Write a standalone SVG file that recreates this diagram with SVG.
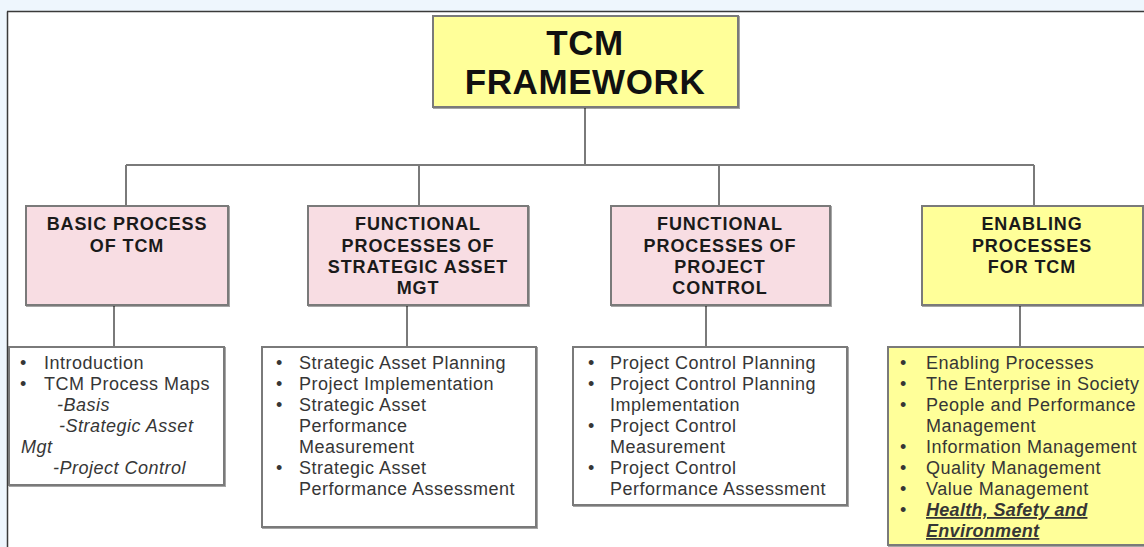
<svg xmlns="http://www.w3.org/2000/svg" width="1144" height="547" viewBox="0 0 1144 547">
  <style>
    .box { stroke: #7a7a7a; stroke-width: 2; }
    .pink { fill: #f8dde3; }
    .yellow { fill: #ffff99; }
    .white { fill: #ffffff; }
    .wire { stroke: #7a7a7a; stroke-width: 2; fill: none; }
    .head { font-family: "Liberation Sans", Arial, sans-serif; font-weight: bold; font-size: 18px; letter-spacing: 0.9px; fill: #1a1a1a; text-anchor: middle; }
    .title { font-family: "Liberation Sans", Arial, sans-serif; font-weight: bold; font-size: 35px; letter-spacing: 0.6px; fill: #111; text-anchor: middle; }
    .body { font-family: "Liberation Sans", Arial, sans-serif; font-size: 18px; letter-spacing: 0.5px; fill: #363636; }
    .it { font-style: italic; }
    .hse { font-style: italic; font-weight: bold; text-decoration: underline; letter-spacing: 0.3px; }
  </style>
  <defs>
    <filter id="shade" x="-5%" y="-5%" width="110%" height="110%">
      <feDropShadow dx="1" dy="1" stdDeviation="0.6" flood-color="#000" flood-opacity="0.35"/>
    </filter>
  </defs>

  <!-- page frame -->
  <rect x="0" y="0" width="1144" height="547" fill="#eef6fd"/>
  <rect x="8" y="12" width="1136" height="535" fill="#ffffff"/>
  <line x1="7.5" y1="11.5" x2="7.5" y2="547" stroke="#3a3a3a" stroke-width="1.5"/>
  <line x1="7" y1="11.5" x2="1144" y2="11.5" stroke="#3a3a3a" stroke-width="1.5"/>

  <!-- connectors -->
  <g id="connectors" class="wire">
    <line x1="585" y1="107" x2="585" y2="165"/>
    <line x1="126" y1="165" x2="1034" y2="165"/>
    <line x1="126" y1="165" x2="126" y2="206"/>
    <line x1="419" y1="165" x2="419" y2="206"/>
    <line x1="719" y1="165" x2="719" y2="206"/>
    <line x1="1034" y1="165" x2="1034" y2="206"/>
    <line x1="114" y1="305" x2="114" y2="347"/>
    <line x1="407" y1="305" x2="407" y2="347"/>
    <line x1="706" y1="305" x2="706" y2="347"/>
    <line x1="1020" y1="305" x2="1020" y2="347"/>
  </g>

  <!-- root -->
  <g id="tcm-framework">
    <rect class="box yellow" filter="url(#shade)" x="433" y="16" width="305" height="91"/>
    <text class="title" x="585" y="55">TCM</text>
    <text class="title" x="585" y="94">FRAMEWORK</text>
  </g>

  <!-- basic process -->
  <g id="basic-process">
    <rect class="box pink" filter="url(#shade)" x="26" y="206" width="202" height="99"/>
    <text class="head" x="127" y="230">BASIC PROCESS</text>
    <text class="head" x="127" y="252">OF TCM</text>
  </g>
  <g id="basic-process-list">
    <rect class="box white" filter="url(#shade)" x="9" y="347" width="215" height="138"/>
    <text class="body">
      <tspan x="20" y="369">•</tspan><tspan x="44" y="369">Introduction</tspan>
      <tspan x="20" y="390">•</tspan><tspan x="44" y="390">TCM Process Maps</tspan>
      <tspan class="it" x="57" y="411">-Basis</tspan>
      <tspan class="it" x="59" y="432">-Strategic Asset</tspan>
      <tspan class="it" x="21" y="453">Mgt</tspan>
      <tspan class="it" x="53" y="474">-Project Control</tspan>
    </text>
  </g>

  <!-- strategic asset management -->
  <g id="strategic-asset">
    <rect class="box pink" filter="url(#shade)" x="308" y="206" width="220" height="99"/>
    <text class="head" x="418" y="230">FUNCTIONAL</text>
    <text class="head" x="418" y="252">PROCESSES OF</text>
    <text class="head" x="418" y="273">STRATEGIC ASSET</text>
    <text class="head" x="418" y="294">MGT</text>
  </g>
  <g id="strategic-asset-list">
    <rect class="box white" filter="url(#shade)" x="262" y="347" width="274" height="180"/>
    <text class="body">
      <tspan x="276" y="369">•</tspan><tspan x="299" y="369">Strategic Asset Planning</tspan>
      <tspan x="276" y="390">•</tspan><tspan x="299" y="390">Project Implementation</tspan>
      <tspan x="276" y="411">•</tspan><tspan x="299" y="411">Strategic Asset</tspan>
      <tspan x="299" y="432">Performance</tspan>
      <tspan x="299" y="453">Measurement</tspan>
      <tspan x="276" y="474">•</tspan><tspan x="299" y="474">Strategic Asset</tspan>
      <tspan x="299" y="495">Performance Assessment</tspan>
    </text>
  </g>

  <!-- project control -->
  <g id="project-control">
    <rect class="box pink" filter="url(#shade)" x="611" y="206" width="219" height="99"/>
    <text class="head" x="720" y="230">FUNCTIONAL</text>
    <text class="head" x="720" y="252">PROCESSES OF</text>
    <text class="head" x="720" y="273">PROJECT</text>
    <text class="head" x="720" y="294">CONTROL</text>
  </g>
  <g id="project-control-list">
    <rect class="box white" filter="url(#shade)" x="573" y="347" width="274" height="158"/>
    <text class="body">
      <tspan x="588" y="369">•</tspan><tspan x="610" y="369">Project Control Planning</tspan>
      <tspan x="588" y="390">•</tspan><tspan x="610" y="390">Project Control Planning</tspan>
      <tspan x="610" y="411">Implementation</tspan>
      <tspan x="588" y="432">•</tspan><tspan x="610" y="432">Project Control</tspan>
      <tspan x="610" y="453">Measurement</tspan>
      <tspan x="588" y="474">•</tspan><tspan x="610" y="474">Project Control</tspan>
      <tspan x="610" y="495">Performance Assessment</tspan>
    </text>
  </g>

  <!-- enabling processes -->
  <g id="enabling">
    <rect class="box yellow" filter="url(#shade)" x="922" y="206" width="221" height="99"/>
    <text class="head" x="1032" y="230">ENABLING</text>
    <text class="head" x="1032" y="252">PROCESSES</text>
    <text class="head" x="1032" y="273">FOR TCM</text>
  </g>
  <g id="enabling-list">
    <rect class="box yellow" filter="url(#shade)" x="888" y="347" width="262" height="198"/>
    <text class="body">
      <tspan x="900" y="369">•</tspan><tspan x="926" y="369">Enabling Processes</tspan>
      <tspan x="900" y="390">•</tspan><tspan x="926" y="390">The Enterprise in Society</tspan>
      <tspan x="900" y="411">•</tspan><tspan x="926" y="411">People and Performance</tspan>
      <tspan x="926" y="432">Management</tspan>
      <tspan x="900" y="453">•</tspan><tspan x="926" y="453">Information Management</tspan>
      <tspan x="900" y="474">•</tspan><tspan x="926" y="474">Quality Management</tspan>
      <tspan x="900" y="495">•</tspan><tspan x="926" y="495">Value Management</tspan>
      <tspan x="900" y="516">•</tspan><tspan class="hse" x="926" y="516">Health, Safety and</tspan>
      <tspan class="hse" x="926" y="537">Environment</tspan>
    </text>
  </g>
</svg>
